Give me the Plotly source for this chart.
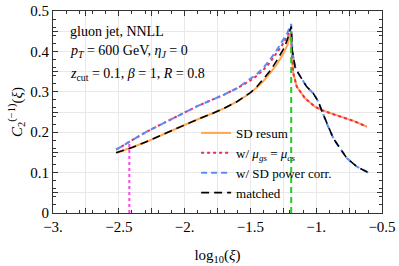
import plotly.graph_objects as go

# ---------------- data ----------------
sd_x = [-2.52, -2.4, -2.3, -2.2, -2.1, -2.0, -1.9, -1.8, -1.7, -1.6, -1.5, -1.45, -1.4, -1.35, -1.3, -1.25, -1.22, -1.19,
        -1.186, -1.174, -1.148, -1.085, -1.009, -0.96, -0.857, -0.78, -0.718, -0.616]
sd_y = [0.149, 0.162, 0.175, 0.189, 0.204, 0.219, 0.232, 0.245, 0.259, 0.276, 0.297, 0.311, 0.327, 0.346, 0.368, 0.394, 0.415, 0.449,
        0.395, 0.346, 0.313, 0.284, 0.263, 0.255, 0.243, 0.234, 0.228, 0.214]

mu_x = sd_x
mu_y = [0.157, 0.181, 0.199, 0.216, 0.232, 0.250, 0.265, 0.279, 0.293, 0.309, 0.328, 0.340, 0.355, 0.373, 0.395, 0.420, 0.437, 0.458,
        0.398, 0.346, 0.313, 0.284, 0.263, 0.255, 0.243, 0.234, 0.228, 0.214]

pc_x = [-2.52, -2.4, -2.3, -2.2, -2.1, -2.0, -1.9, -1.8, -1.7, -1.6, -1.5, -1.45, -1.4, -1.35, -1.3, -1.25, -1.22, -1.19,
        -1.182, -1.161, -1.136, -1.073, -1.022, -0.984, -0.96, -0.92, -0.87, -0.844, -0.768, -0.692, -0.604]
pc_y = [0.157, 0.181, 0.199, 0.216, 0.232, 0.250, 0.265, 0.279, 0.293, 0.309, 0.331, 0.344, 0.360, 0.380, 0.403, 0.428, 0.445, 0.468,
        0.403, 0.362, 0.346, 0.313, 0.296, 0.276, 0.255, 0.222, 0.185, 0.172, 0.136, 0.115, 0.100]

mt_x = pc_x
mt_y = [0.149, 0.162, 0.175, 0.189, 0.204, 0.219, 0.232, 0.245, 0.259, 0.276, 0.298, 0.313, 0.332, 0.352, 0.377, 0.405, 0.428, 0.462,
        0.403, 0.362, 0.346, 0.313, 0.296, 0.276, 0.255, 0.222, 0.185, 0.172, 0.136, 0.115, 0.100]

green_x = [-1.19, -1.19]
green_y = [0.0, 0.45]
magenta_x = [-2.42, -2.42]
magenta_y = [0.0, 0.178]

x_tickvals = [-3, -2.75, -2.5, -2.25, -2, -1.75, -1.5, -1.25, -1, -0.75, -0.5]
x_ticktext = ["−3.", "", "−2.5", "", "−2.", "", "−1.5", "", "−1.", "", "−0.5"]
y_tickvals = [0, 0.05, 0.1, 0.15, 0.2, 0.25, 0.3, 0.35, 0.4, 0.45, 0.5]
y_ticktext = ["0", "", "0.1", "", "0.2", "", "0.3", "", "0.4", "", "0.5"]

series_names = ["SD resum", "w/ <i>μ<sub>gs</sub></i> = <i>μ<sub>cs</sub></i>", "w/ SD power corr.", "matched"]

# ---------------- figure ----------------
FONT = "Times New Roman, Liberation Serif, DejaVu Serif, serif"
fig = go.Figure()

fig.add_trace(go.Scatter(x=sd_x, y=sd_y, mode="lines", name=series_names[0],
                         line=dict(color="#FFA54F", width=2)))
fig.add_trace(go.Scatter(x=mu_x, y=mu_y, mode="lines", name=series_names[1],
                         line=dict(color="#F0285A", width=2, dash="dot")))
fig.add_trace(go.Scatter(x=pc_x, y=pc_y, mode="lines", name=series_names[2],
                         line=dict(color="#5B8BF5", width=2, dash="6px,4px")))
fig.add_trace(go.Scatter(x=mt_x, y=mt_y, mode="lines", name=series_names[3],
                         line=dict(color="black", width=1.6, dash="8px,5px")))
fig.add_trace(go.Scatter(x=green_x, y=green_y, mode="lines", showlegend=False,
                         line=dict(color="#22CC22", width=2, dash="6px,4px")))
fig.add_trace(go.Scatter(x=magenta_x, y=magenta_y, mode="lines", showlegend=False,
                         line=dict(color="#FF44EE", width=2, dash="dot")))

axis_common = dict(showline=True, linecolor="#333333", linewidth=1, mirror="allticks",
                   ticks="inside", ticklen=5, tickcolor="#333333", automargin=True,
                   ticklabeloverflow="allow",
                   showgrid=True, gridcolor="#E8E8E8", gridwidth=1, zeroline=False,
                   tickfont=dict(family=FONT, size=15, color="black"))

fig.update_xaxes(range=[-3, -0.5], tickmode="array", tickvals=x_tickvals, ticktext=x_ticktext,
                 minor=dict(dtick=0.1, tick0=-3, ticks="inside", ticklen=3, tickcolor="#333333", showgrid=False),
                 title=dict(text="log<sub>10</sub>(<i>ξ</i>)", font=dict(family=FONT, size=15, color="black"), standoff=15),
                 **axis_common)
fig.update_yaxes(range=[0, 0.5], tickmode="array", tickvals=y_tickvals, ticktext=y_ticktext,
                 minor=dict(dtick=0.02, tick0=0, ticks="inside", ticklen=3, tickcolor="#333333", showgrid=False),
                 title=dict(text="<i>C</i><sub>2</sub><sup>(−1)</sup>(<i>ξ</i>)", font=dict(family=FONT, size=15, color="black"), standoff=4),
                 **axis_common)

ann_font = dict(family=FONT, size=14, color="black")
fig.add_annotation(x=0.045, y=0.90, xref="paper", yref="paper", xanchor="left", yanchor="middle",
                   text="gluon jet, NNLL", showarrow=False, font=ann_font)
fig.add_annotation(x=0.045, y=0.80, xref="paper", yref="paper", xanchor="left", yanchor="middle",
                   text="<i>p<sub>T</sub></i> = 600 GeV, <i>η<sub>J</sub></i> = 0", showarrow=False, font=ann_font)
fig.add_annotation(x=0.045, y=0.685, xref="paper", yref="paper", xanchor="left", yanchor="middle",
                   text="<i>z</i><sub>cut</sub> = 0.1, <i>β</i> = 1, <i>R</i> = 0.8", showarrow=False, font=ann_font)

fig.update_layout(
    width=399, height=266,
    margin=dict(l=53, r=17, t=11, b=53, autoexpand=False),
    paper_bgcolor="white", plot_bgcolor="white",
    font=dict(family=FONT, size=14, color="black"),
    legend=dict(x=0.435, y=0.025, xanchor="left", yanchor="bottom", bgcolor="rgba(0,0,0,0)",
                font=dict(family=FONT, size=13, color="black"), tracegroupgap=0, itemwidth=30),
    showlegend=True,
)

# remove the page's default 8px body margin so the figure sits at the window's corner
fig.write_html("out.html", config={"displayModeBar": False},
               post_script="document.body.style.margin='0px';")
